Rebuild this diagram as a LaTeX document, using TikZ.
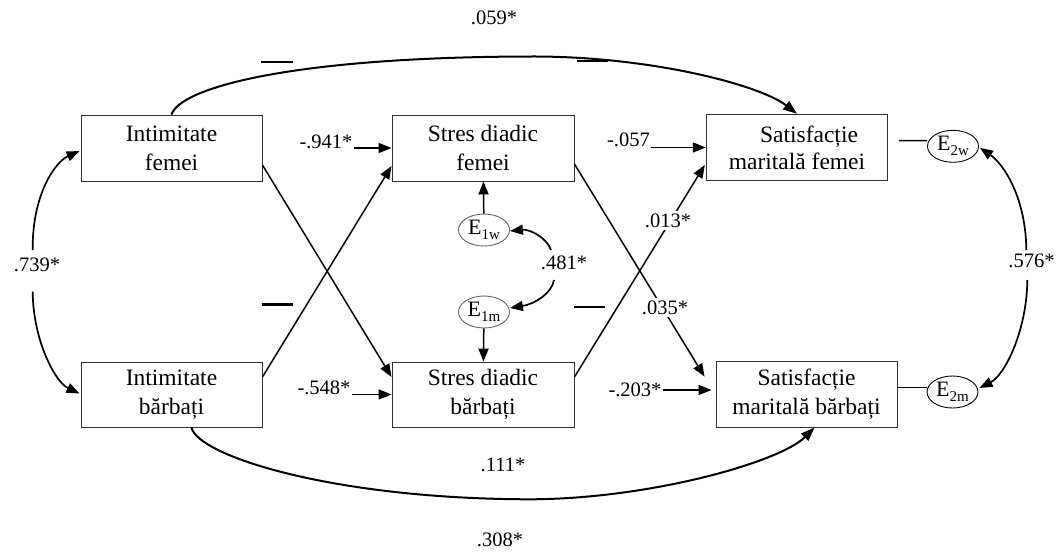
\documentclass[tikz,border=0pt]{standalone}
\usepackage{fontspec}
\setmainfont{Liberation Serif}
\usetikzlibrary{arrows.meta,calc,shapes.geometric}
\tikzset{
  box/.style={draw=black!80, line width=0.9pt, rectangle, inner sep=0pt, align=center,
    font=\fontsize{23.5}{29}\selectfont},
  err/.style={draw, ellipse, line width=0.9pt, inner sep=0pt, minimum width=51pt,
    minimum height=32pt, font=\fontsize{22}{22}\selectfont},
  coef/.style={inner sep=1pt, font=\fontsize{20.5}{22}\selectfont},
  oncoef/.style={coef, fill=white, inner sep=3pt},
  effect/.style={line width=1.5pt, -{Triangle[length=13pt,width=10pt]}},
  direct/.style={line width=2pt, -{Triangle[length=14pt,width=10pt]}},
  cov/.style={line width=1.7pt, -{Triangle[length=13pt,width=10pt]}},
  link/.style={line width=1.5pt},
  bar/.style={line width=2.4pt},
}
\newcommand\errlab[2]{#1\raisebox{-5pt}{\fontsize{15}{15}\selectfont #2}}

\begin{document}
\begin{tikzpicture}[x=1pt,y=-1pt]
\useasboundingbox (0,0) rectangle (1063,554);

% observed variables
\node[box, minimum width=181pt, minimum height=66pt] (IF) at (171.5,148) {Intimitate\\femei};
\node[box, minimum width=182pt, minimum height=66pt] (SW) at (483,148) {Stres diadic\\femei};
\node[box, minimum width=181.5pt, minimum height=66.5pt, font=\fontsize{23.5}{27}\selectfont]
  (MW) at (797,147.5) {\hspace*{24pt}Satisfacție\\maritală femei};
\node[box, minimum width=181pt, minimum height=65pt] (IB) at (171.5,394.5) {Intimitate\\bărbați};
\node[box, minimum width=182pt, minimum height=65pt] (SB) at (483,394.5) {Stres diadic\\bărbați};
\node[box, minimum width=181pt, minimum height=66pt] (MB) at (806.5,394) {Satisfacție\\maritală bărbați};

% error terms
\node[err, draw=black!60] (E1w) at (484,230) {\errlab{E}{1w}};
\node[err, draw=black!60] (E1m) at (484,312) {\errlab{E}{1m}};
\node[err] (E2w) at (953,146.3) {\errlab{E}{2w}};
\node[err] (E2m) at (952.5,392) {\errlab{E}{2m}};

% coefficients
\node[coef] (l059) at (494,18) {.059*};
\node[coef] (l739) at (37,265) {.739*};
\node[coef] (l481) at (564,263) {.481*};
\node[coef] (l576) at (1031.5,261) {.576*};
\node[coef] (l941) at (326,142) {-.941*};
\node[coef] (l548) at (324,388) {-.548*};
\node[coef] (l057) at (628.5,140) {-.057};
\node[coef] (l203) at (635,390) {-.203*};
\node[coef] (l111) at (503,465) {.111*};
\node[coef] (l308) at (500,540) {.308*};

% direct paths across the model
\draw[direct] (IF.north) .. controls (180,88) and (290,57) .. (530,56.5)
  .. controls (650,56) and (760,85) .. (MW.north);
\draw[direct] ($(IB.south)+(20,0)$) .. controls (197,455) and (330,499) .. (530,499.3)
  .. controls (650,499) and (780,462) .. ($(MB.south)+(8,0)$);

% crossed paths
\draw[effect] ($(IF.east)+(0,17)$) -- ($(SB.west)+(0,-17.5)$);
\draw[effect] ($(IB.east)+(0,-17.5)$) -- ($(SW.west)+(0,18)$);
\draw[effect] ($(SW.east)+(0,16)$) -- ($(MB.west)+(-11,-17.3)$);
\draw[effect] ($(SB.east)+(0,-17.5)$) -- ($(MW.west)+(-1,17.5)$);
\node[oncoef] (l035) at (665,307.5) {.035*};
\node[oncoef] (l013) at (668,220.5) {.013*};

% coefficient arrows into the boxes
\draw[effect] (l941.east |- SW.west) -- (SW.west);
\draw[effect] (l548.east |- SB.west) -- (SB.west);
\draw[effect] (l057.east |- MW.west) -- (MW.west);
\draw[effect] (l203.east) -- ($(l203.east -| MB.west)+(-4,0)$);

% error terms
\draw[effect] (E1w) -- (SW);
\draw[effect] (E1m) -- (SB);
\draw[link] ($(MW.east)+(11,-7)$) -- ($(E2w.west)+(0,-5.6)$);
\draw[link] ($(MB.east)+(0,-6.3)$) -- ($(E2m.west)+(0,-4.3)$);

% covariances
\coordinate (c739a) at (32.7,250);
\coordinate (c739b) at (32.7,291.7);
\draw[cov] (c739a) .. controls (32,195) and (55,162) .. ($(IF.west)+(-1,3)$);
\draw[cov] (c739b) .. controls (33,340) and (55,382) .. ($(IB.west)+(-1,-1)$);
\coordinate (c481a) at (551,250);
\coordinate (c481b) at (554,280);
\draw[cov] (c481a) .. controls (547,238) and (530,229) .. ($(E1w.east)+(0,1)$);
\draw[cov] (c481b) .. controls (552,293) and (535,304) .. ($(E1m.east)+(0,-4)$);
\coordinate (c576a) at (1026.3,250);
\coordinate (c576b) at (1027.3,280);
\draw[cov] (c576a) .. controls (1026,200) and (1005,165) .. ($(E2w.east)+(1,1.5)$);
\draw[cov] (c576b) .. controls (1027,330) and (1005,375) .. ($(E2m.east)+(1,-4)$);

% short marks
\draw[bar] (261,61.7) -- (292.7,61.7);
\draw[bar] (577,60.7) -- (608,60.7);
\draw[bar] (261.7,304.3) -- (292.7,304.3);
\draw[bar] (573.7,306.7) -- (604.8,306.7);
\end{tikzpicture}
\end{document}
